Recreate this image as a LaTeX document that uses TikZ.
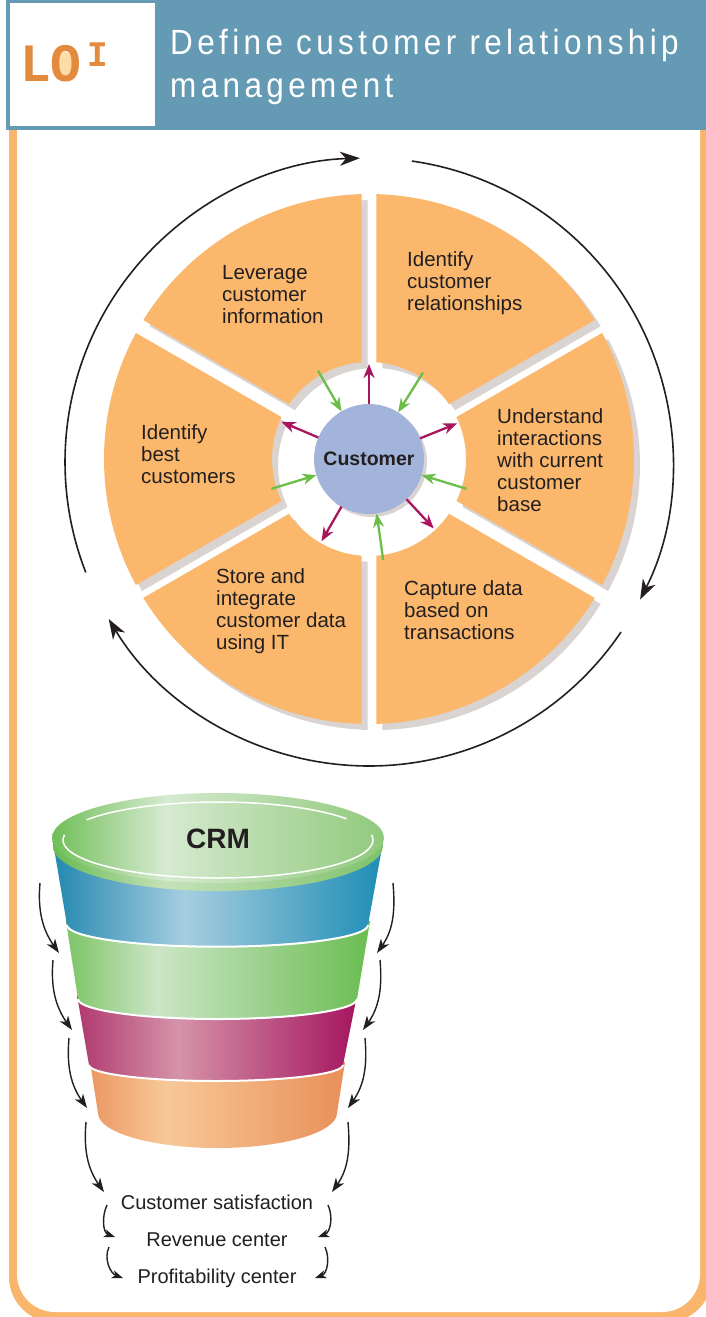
\documentclass[tikz,border=0pt]{standalone}
\usepackage{fontspec}
\setmainfont{Liberation Sans}
\newfontfamily\titlefont[FakeStretch=0.9,LetterSpace=12.5]{Liberation Sans}
\newfontfamily\lofont[FakeStretch=0.95]{Liberation Mono}
\usepackage{tikz}
\usetikzlibrary{arrows.meta}
\definecolor{crmteal}{RGB}{101,154,180}
\definecolor{crmorange}{RGB}{251,184,109}
\definecolor{crmframe}{RGB}{249,181,108}
\definecolor{crmshadow}{RGB}{217,211,209}
\definecolor{crmhub}{RGB}{162,180,218}
\definecolor{crmgreen}{RGB}{108,190,74}
\definecolor{crmmagenta}{RGB}{168,23,94}
\definecolor{crmtext}{RGB}{35,31,32}
\definecolor{crmlo}{RGB}{227,138,60}
\definecolor{crmlolight}{RGB}{253,220,166}
% funnel band colours (edge, highlight, edge)
\definecolor{lidA}{RGB}{112,190,88}
\definecolor{lidB}{RGB}{214,234,208}
\definecolor{lidC}{RGB}{144,201,124}
\definecolor{rimA}{RGB}{104,186,80}
\definecolor{rimB}{RGB}{196,226,186}
\definecolor{rimC}{RGB}{128,194,106}
\definecolor{blueA}{RGB}{35,136,176}
\definecolor{blueB}{RGB}{166,205,224}
\definecolor{blueC}{RGB}{30,141,181}
\definecolor{greenA}{RGB}{124,196,102}
\definecolor{greenB}{RGB}{204,229,198}
\definecolor{greenC}{RGB}{106,189,82}
\definecolor{magA}{RGB}{176,57,111}
\definecolor{magB}{RGB}{213,147,168}
\definecolor{magC}{RGB}{165,21,96}
\definecolor{oraA}{RGB}{236,152,99}
\definecolor{oraB}{RGB}{247,200,152}
\definecolor{oraC}{RGB}{233,143,88}
\pgfdeclarehorizontalshading{lidface}{100bp}{color(0bp)=(lidA); color(25bp)=(lidA); color(42bp)=(lidB); color(75bp)=(lidC); color(100bp)=(lidC)}
\pgfdeclarehorizontalshading{lidrim}{100bp}{color(0bp)=(rimA); color(25bp)=(rimA); color(42bp)=(rimB); color(75bp)=(rimC); color(100bp)=(rimC)}
\pgfdeclarehorizontalshading{bandblue}{100bp}{color(0bp)=(blueA); color(25bp)=(blueA); color(45bp)=(blueB); color(75bp)=(blueC); color(100bp)=(blueC)}
\pgfdeclarehorizontalshading{bandgreen}{100bp}{color(0bp)=(greenA); color(25bp)=(greenA); color(40bp)=(greenB); color(75bp)=(greenC); color(100bp)=(greenC)}
\pgfdeclarehorizontalshading{bandmagenta}{100bp}{color(0bp)=(magA); color(25bp)=(magA); color(43bp)=(magB); color(75bp)=(magC); color(100bp)=(magC)}
\pgfdeclarehorizontalshading{bandorange}{100bp}{color(0bp)=(oraA); color(25bp)=(oraA); color(40bp)=(oraB); color(75bp)=(oraC); color(100bp)=(oraC)}

\begin{document}
\begin{tikzpicture}[x=1pt, y=1pt,
    seglabel/.style={anchor=north west, align=left, inner sep=0, text=crmtext, font=\fontsize{20.5}{22}\selectfont},
    outcome/.style={anchor=base, inner sep=0, text=crmtext, font=\fontsize{20}{24}\selectfont},
    outflow/.style={crmmagenta, line width=2.3, -{Stealth[length=14pt, width=11pt]}},
    inflow/.style={crmgreen, line width=2.3, -{Stealth[length=14pt, width=11pt]}},
    cycleflow/.style={crmtext, line width=1.6, -{Stealth[length=20pt, width=14pt, inset=6pt]}},
    sideflow/.style={crmtext, line width=1.4, -{Stealth[length=14pt, width=10pt, inset=4pt]}},
    smallflow/.style={crmtext, line width=1.4, -{Stealth[length=11pt, width=8pt, inset=3pt]}}]
                \useasboundingbox (0,0) rectangle (706,-1317);

                % Page frame
                \fill[crmframe] (9,-100) [rounded corners=45] -- (9,-1322) -- (712,-1322) [sharp corners] -- (712,-100) -- cycle;
                \fill[white] (17,-100) [rounded corners=38] -- (17,-1312) -- (700,-1312) [sharp corners] -- (700,-100) -- cycle;

                % Header band
                \fill[crmteal] (6,0) rectangle (706,-130);
                \fill[white] (10,-3) rectangle (155,-126);
                \fill[crmlolight] (65,-64) ellipse[x radius=8, y radius=12];
                \node[anchor=base west, inner sep=0, text=crmlo, font=\lofont\bfseries\fontsize{54}{54}\selectfont] (lo) at (20,-81) {LO};
                \node[anchor=base west, inner sep=0, text=crmlo, font=\lofont\bfseries\fontsize{36}{36}\selectfont] (lonum) at (87,-66) {I};
                \node[anchor=base west, align=left, inner sep=0, text=white, font=\titlefont\fontsize{35}{43.5}\selectfont] (title) at (170,-97.5) {Define customer relationship\\management};

                % Wheel of six segments round the customer
                \begin{scope}[shift={(369,-459)}]
                    \foreach \a in {-150,-90,...,150}
                        \fill[crmshadow, shift={(6,-6)}] (\a+1.6:265) arc[start angle=\a+1.6, end angle=\a+58.4, radius=265]
                            -- (\a+55.6:97) arc[start angle=\a+55.6, end angle=\a+4.4, radius=97] -- cycle;
                    \foreach \a in {-150,-90,...,150}
                        \fill[crmorange] (\a+1.6:265) arc[start angle=\a+1.6, end angle=\a+58.4, radius=265]
                            -- (\a+55.6:97) arc[start angle=\a+55.6, end angle=\a+4.4, radius=97] -- cycle;

                    % Customer hub
                    \fill[crmshadow] (3,-3) circle[radius=55];
                    \node[circle, fill=crmhub, minimum size=110, inner sep=0, outer sep=0, text=crmtext, font=\bfseries\fontsize{19.5}{20}\selectfont] (customer) at (0,0) {Customer};

                    % Arrows in and out of the hub
                    \foreach \a in {90,22,313,240,157}
                        \draw[outflow] (customer.\a) -- (\a:95);
                    \foreach \a in {58,343,278,197,120}
                        \draw[inflow] (\a:102) -- (customer.\a);
                \end{scope}

                % Cycle arrows round the wheel
                \begin{scope}[shift={(369,-462)}]
                    \draw[cycleflow] (201.3:304) arc[start angle=201.3, end angle=91.7, radius=304];
                    \draw[cycleflow] (81.9:304) arc[start angle=81.9, end angle=-26.9, radius=304];
                    \draw[cycleflow] (-34:304) arc[start angle=-34, end angle=-148.9, radius=304];
                \end{scope}

                % Segment labels
                \node[seglabel] (leverage) at (222,-265) {Leverage\\customer\\information};
                \node[seglabel] (relation) at (407,-251) {Identify\\customer\\relationships};
                \node[seglabel] (interact) at (497,-408) {Understand\\interactions\\with current\\customer\\base};
                \node[seglabel] (capture) at (404,-580) {Capture data\\based on\\transactions};
                \node[seglabel] (store) at (216,-568) {Store and\\integrate\\customer data\\using IT};
                \node[seglabel] (best) at (141,-424) {Identify\\best\\customers};

                % Funnel bands, bottom first
                \shade[shading=bandorange] (90,-1062) -- (98,-1113) arc[start angle=180, end angle=360, x radius=119.5, y radius=35] -- (345,-1062) -- cycle;
                \shade[shading=bandmagenta] (77,-995) -- (89,-1065) arc[start angle=180, end angle=360, x radius=127, y radius=16] -- (357,-995) -- cycle;
                \draw[white, line width=2] (89,-1065) arc[start angle=180, end angle=360, x radius=127, y radius=16];
                \shade[shading=bandgreen] (66,-921) -- (78,-999) arc[start angle=180, end angle=360, x radius=139.5, y radius=20] -- (370,-921) -- cycle;
                \draw[white, line width=2] (78,-999) arc[start angle=180, end angle=360, x radius=139.5, y radius=20];
                \shade[shading=bandblue] (53,-842) -- (67,-925) arc[start angle=180, end angle=360, x radius=150.5, y radius=21.7] -- (383,-842) -- cycle;
                \draw[white, line width=2] (67,-925) arc[start angle=180, end angle=360, x radius=150.5, y radius=21.7];

                % Funnel lid
                \shade[shading=lidrim] (218,-846) ellipse[x radius=165, y radius=45];
                \shade[shading=lidface] (218,-838) ellipse[x radius=166, y radius=45];
                \draw[white, line width=1.5] (218,-840) ++(148:155 and 38) arc[start angle=148, end angle=34, x radius=155, y radius=38];
                \draw[white, line width=1.5] (218,-840) ++(172:155 and 38) arc[start angle=172, end angle=368, x radius=155, y radius=38];
                \node[text=crmtext, font=\bfseries\fontsize{28}{30}\selectfont] (crm) at (218,-839) {CRM};

                % Arrows down both sides of the funnel
                \foreach \sx/\sy/\ex/\ey in {40/883/59/953, 53/960/72/1030, 69/1038/87/1108, 86/1122/104/1192}
                    \draw[sideflow] (\sx,-\sy) to[out=-95, in=125] (\ex,-\ey);
                \foreach \sx/\sy/\ex/\ey in {393/883/377/953, 380/960/363/1030, 365/1038/348/1108, 348/1122/332/1192}
                    \draw[sideflow] (\sx,-\sy) to[out=-85, in=55] (\ex,-\ey);

                % Outcomes
                \node[outcome] (satisf) at (217,-1209) {Customer satisfaction};
                \node[outcome] (revenue) at (217,-1246) {Revenue center};
                \node[outcome] (profit) at (217,-1283) {Profitability center};
                \foreach \sx/\sy/\ex/\ey in {107/1205/115/1237, 109/1247/123/1278}
                    \draw[smallflow] (\sx,-\sy) to[out=-115, in=160] (\ex,-\ey);
                \foreach \sx/\sy/\ex/\ey in {328/1205/318/1237, 325/1247/315/1278}
                    \draw[smallflow] (\sx,-\sy) to[out=-65, in=20] (\ex,-\ey);
            \end{tikzpicture}
\end{document}
